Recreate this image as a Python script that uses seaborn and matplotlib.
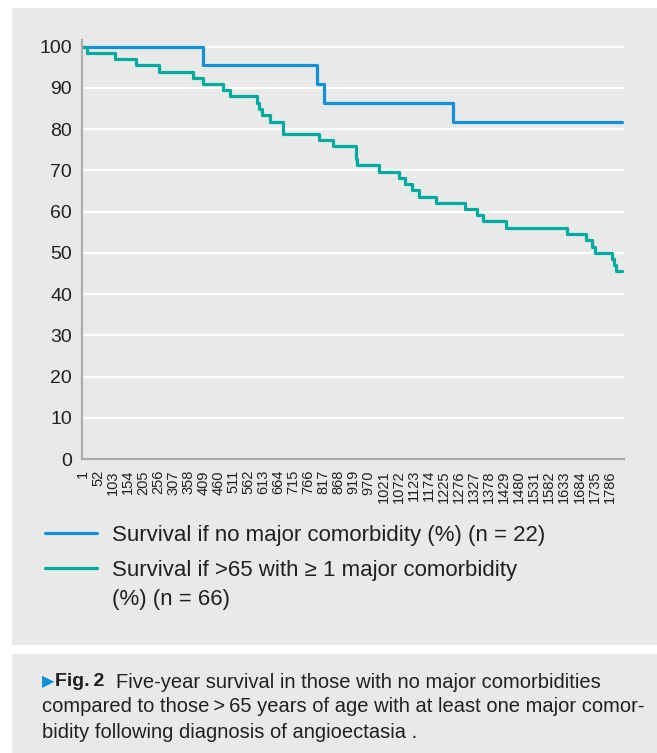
import pandas as pd
import matplotlib
matplotlib.use('Agg')
import matplotlib.pyplot as plt
import seaborn as sns
from matplotlib.patches import Rectangle

# Kaplan-Meier style survival steps (day of event, survival % after event)
no_comorb_days = [1, 406, 795, 818, 1254, 1830]
no_comorb_surv = [100, 95.5, 90.9, 86.4, 81.8, 81.8]

old_comorb_days = [1, 14, 109, 180, 259, 374, 406, 476, 499, 589, 598, 606, 635, 678,
                   802, 847, 926, 928, 931, 1005, 1072, 1092, 1116, 1141, 1198, 1296,
                   1338, 1358, 1435, 1643, 1707, 1726, 1737, 1794, 1802, 1809, 1830]
old_comorb_surv = [100, 98.5, 97.0, 95.5, 93.9, 92.4, 90.9, 89.4, 87.9, 86.4, 84.8, 83.3,
                   81.8, 78.8, 77.3, 75.8, 74.2, 72.7, 71.2, 69.7, 68.2, 66.7, 65.2, 63.6,
                   62.1, 60.6, 59.1, 57.6, 56.1, 54.5, 53.0, 51.5, 50.0, 48.5, 47.0, 45.5, 45.5]

x_tick_labels = [1, 52, 103, 154, 205, 256, 307, 358, 409, 460, 511, 562, 613, 664, 715,
                 766, 817, 868, 919, 970, 1021, 1072, 1123, 1174, 1225, 1276, 1327, 1378,
                 1429, 1480, 1531, 1582, 1633, 1684, 1735, 1786]
y_ticks = [0, 10, 20, 30, 40, 50, 60, 70, 80, 90, 100]

label_a = 'Survival if no major comorbidity (%) (n = 22)'
label_b = 'Survival if >65 with \u2265 1 major comorbidity'
label_b_cont = '(%) (n = 66)'

df = pd.concat([
    pd.DataFrame({'day': no_comorb_days, 'survival': no_comorb_surv, 'group': label_a}),
    pd.DataFrame({'day': old_comorb_days, 'survival': old_comorb_surv, 'group': label_b}),
])

bg = '#e8eaea'
blue = '#1391d6'
teal = '#00aa9c'
txt = '#231f20'

sns.set_style('white')
plt.rcParams['font.family'] = ['Liberation Sans', 'DejaVu Sans']
plt.rcParams['text.color'] = txt

fig = plt.figure(figsize=(6.57, 7.53), dpi=100)
fig.patch.set_facecolor('white')

# grey panels behind the chart and the caption
fig.add_artist(Rectangle((12 / 657, 1 - 645 / 753), 1, (645 - 8) / 753,
                         transform=fig.transFigure, facecolor=bg, edgecolor='none', zorder=-5))
fig.add_artist(Rectangle((12 / 657, 0), 1, (753 - 654) / 753,
                         transform=fig.transFigure, facecolor=bg, edgecolor='none', zorder=-5))

ax = fig.add_axes([81.7 / 657, 1 - 459 / 753, (624.5 - 81.7) / 657, (459 - 40) / 753])
ax.set_facecolor(bg)

sns.lineplot(data=df, x='day', y='survival', hue='group', palette=[blue, teal],
             drawstyle='steps-post', linewidth=2.3, estimator=None, legend=False, ax=ax)

ax.set_xlim(-4, 1837)
ax.set_ylim(0, 101.6)
ax.set_yticks(y_ticks)
ax.set_xticks(x_tick_labels)
ax.set_xticklabels([str(v) for v in x_tick_labels], rotation=90, fontsize=10.5, color=txt)
ax.set_yticklabels([str(v) for v in y_ticks], fontsize=14, color=txt)
ax.tick_params(axis='both', length=0)
ax.tick_params(axis='y', pad=7)
ax.tick_params(axis='x', pad=8)
ax.set_xlabel('')
ax.set_ylabel('')

ax.yaxis.grid(True, color='white', linewidth=1.6)
ax.xaxis.grid(False)
ax.set_axisbelow(True)
for side in ['top', 'right']:
    ax.spines[side].set_visible(False)
for side in ['left', 'bottom']:
    ax.spines[side].set_color('#a9abac')
    ax.spines[side].set_linewidth(1.6)

fig.legend(handles=ax.get_lines()[:2], labels=[label_a, label_b],
           loc='upper left', bbox_to_anchor=(45 / 657, 1 - 525 / 753),
           frameon=False, fontsize=16, handlelength=2.35, handletextpad=0.68,
           borderpad=0, borderaxespad=0, labelspacing=0.64)
fig.text(112 / 657, 1 - 599 / 753, label_b_cont, fontsize=16, va='center')

# caption
cap_size = 14.5
fig.text(42 / 657, 1 - 682 / 753, '\u25b6', color=blue, fontsize=11.5,
         family=['DejaVu Sans'], va='center')
fig.text(55 / 657, 1 - 682 / 753, 'Fig.\u20092', fontsize=cap_size - 0.5, fontweight='bold',
         va='center')
fig.text(116 / 657, 1 - 682 / 753, 'Five-year survival in those with no major comorbidities',
         fontsize=cap_size, va='center')
fig.text(42 / 657, 1 - 707 / 753,
         'compared to those\u2009>\u200965 years of age with at least one major comor-',
         fontsize=cap_size, va='center')
fig.text(42 / 657, 1 - 732 / 753, 'bidity following diagnosis of angioectasia .',
         fontsize=cap_size, va='center')

fig.savefig('out.png', dpi=100, facecolor='white')
